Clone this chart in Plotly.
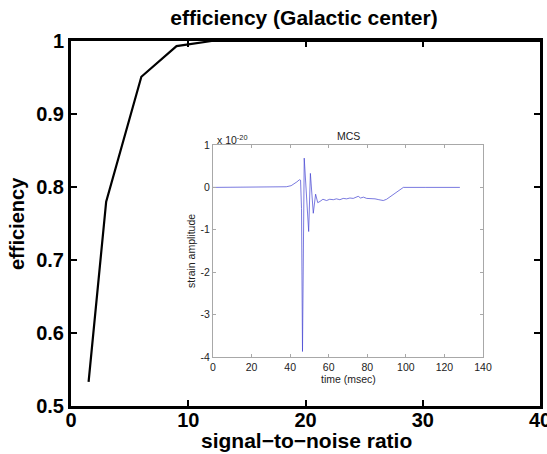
import plotly.graph_objects as go

# ---- main curve: efficiency vs SNR ----
snr = [1.5, 3, 6, 9, 12, 15, 20, 25, 30, 35, 40]
efficiency = [0.533, 0.78, 0.951, 0.993, 1.0, 1.0, 1.0, 1.0, 1.0, 1.0, 1.0]

x_ticks = [0, 10, 20, 30, 40]
x_ticktext = ["0", "10", "20", "30", "40"]
y_ticks = [0.5, 0.6, 0.7, 0.8, 0.9, 1.0]
y_ticktext = ["0.5", "0.6", "0.7", "0.8", "0.9", "1"]

# ---- inset: MCS waveform (strain in units of 1e-20) ----
time_ms = [0, 10, 20, 30, 35, 38, 40.5, 42, 43.5, 44.8, 45.4, 45.9, 46.4, 47.3, 48.5,
           49.6, 50.5, 51.3, 52.0, 53.2, 54.3, 55.5, 57, 58.9, 60.5, 62.4, 64, 65.8,
           67.5, 69.3, 71, 72.7, 74, 75.3, 76.5, 78, 79.7, 82, 84, 86, 88.3, 90, 94,
           98.7, 110, 120, 128]
strain = [0, 0, 0, 0, 0.005, 0.015, 0.04, 0.08, 0.13, 0.18, 0.17, -0.5, -3.87, 0.69, -0.3,
          -1.04, 0.33, -0.2, -0.61, -0.16, -0.36, -0.33, -0.28, -0.31, -0.28, -0.29, -0.27, -0.29,
          -0.26, -0.27, -0.25, -0.26, -0.24, -0.21, -0.25, -0.23, -0.26, -0.26, -0.27, -0.29, -0.31, -0.28, -0.15,
          0.0, 0, 0, 0]

inset_x_ticks = [0, 20, 40, 60, 80, 100, 120, 140]
inset_x_ticktext = ["0", "20", "40", "60", "80", "100", "120", "140"]
inset_y_ticks = [-4, -3, -2, -1, 0, 1]
inset_y_ticktext = ["-4", "-3", "-2", "-1", "0", "1"]

W, H = 547, 454
L, R, T, B = 71, 540, 41, 406  # main plot area in pixels
pw, ph = R - L, B - T

def px_x(p):
    return (p - L) / pw

def px_y(p):
    return (B - p) / ph

FAM = "Liberation Sans, Arial, Helvetica"
bold = dict(family=FAM, size=20, color="black", weight="bold")
bold_big = dict(family=FAM, size=21, color="black", weight="bold")
small = dict(family=FAM, size=10.5, color="#222")

fig = go.Figure()
fig.add_trace(go.Scatter(x=snr, y=efficiency, mode="lines",
                         line=dict(color="black", width=2.2),
                         xaxis="x", yaxis="y", showlegend=False, hoverinfo="skip"))
fig.add_trace(go.Scatter(x=time_ms, y=strain, mode="lines",
                         line=dict(color="rgba(70,70,210,0.8)", width=0.9),
                         xaxis="x2", yaxis="y2", showlegend=False, hoverinfo="skip"))

main_ax = dict(showgrid=False, zeroline=False, showline=True, linewidth=3, linecolor="black",
               mirror="ticks", ticks="inside", ticklen=6, tickwidth=2, tickcolor="black",
               tickfont=bold, automargin=False, ticklabeloverflow="allow")
inset_ax = dict(showgrid=False, zeroline=False, showline=True, linewidth=1, linecolor="#a8a8a8",
                mirror="ticks", ticks="inside", ticklen=3, tickwidth=1, tickcolor="#a8a8a8",
                tickfont=small, automargin=False)

fig.update_layout(
    width=W, height=H,
    margin=dict(l=L, r=W - R, t=T, b=H - B, autoexpand=False),
    paper_bgcolor="white", plot_bgcolor="white",
    xaxis=dict(main_ax, domain=[0, 1], range=[0, 40], tickvals=x_ticks, ticktext=x_ticktext,
               ticklabelstandoff=-6),
    yaxis=dict(main_ax, domain=[0, 1], range=[0.5, 1], tickvals=y_ticks, ticktext=y_ticktext),
    xaxis2=dict(inset_ax, anchor="y2", domain=[px_x(213), px_x(483)], range=[0, 140],
                tickvals=inset_x_ticks, ticktext=inset_x_ticktext),
    yaxis2=dict(inset_ax, anchor="x2", domain=[px_y(357), px_y(145)], range=[-4, 1],
                tickvals=inset_y_ticks, ticktext=inset_y_ticktext),
    title=dict(text="efficiency (Galactic center)", xref="paper", x=px_x(304), xanchor="center",
               yref="container", y=1 - 18 / H, yanchor="middle", font=bold_big),
    annotations=[
        dict(text="signal\u2212to\u2212noise ratio", xref="paper", yref="paper",
             x=px_x(306), y=px_y(440), xanchor="center", yanchor="middle", showarrow=False,
             font=bold_big),
        dict(text="efficiency", xref="paper", yref="paper", x=px_x(17), y=px_y(224),
             xanchor="center", yanchor="middle", textangle=-90, showarrow=False, font=bold),
        dict(text="MCS", xref="paper", yref="paper", x=px_x(348), y=px_y(136),
             xanchor="center", yanchor="middle", showarrow=False, font=small),
        dict(text="time (msec)", xref="paper", yref="paper", x=px_x(348), y=px_y(379),
             xanchor="center", yanchor="middle", showarrow=False, font=small),
        dict(text="strain amplitude", xref="paper", yref="paper", x=px_x(191), y=px_y(251),
             xanchor="center", yanchor="middle", textangle=-90, showarrow=False, font=small),
        dict(text="x 10<sup>-20</sup>", xref="paper", yref="paper", x=px_x(215), y=px_y(139),
             xanchor="left", yanchor="middle", showarrow=False, font=small),
    ],
)

fig.write_html("out.html")
